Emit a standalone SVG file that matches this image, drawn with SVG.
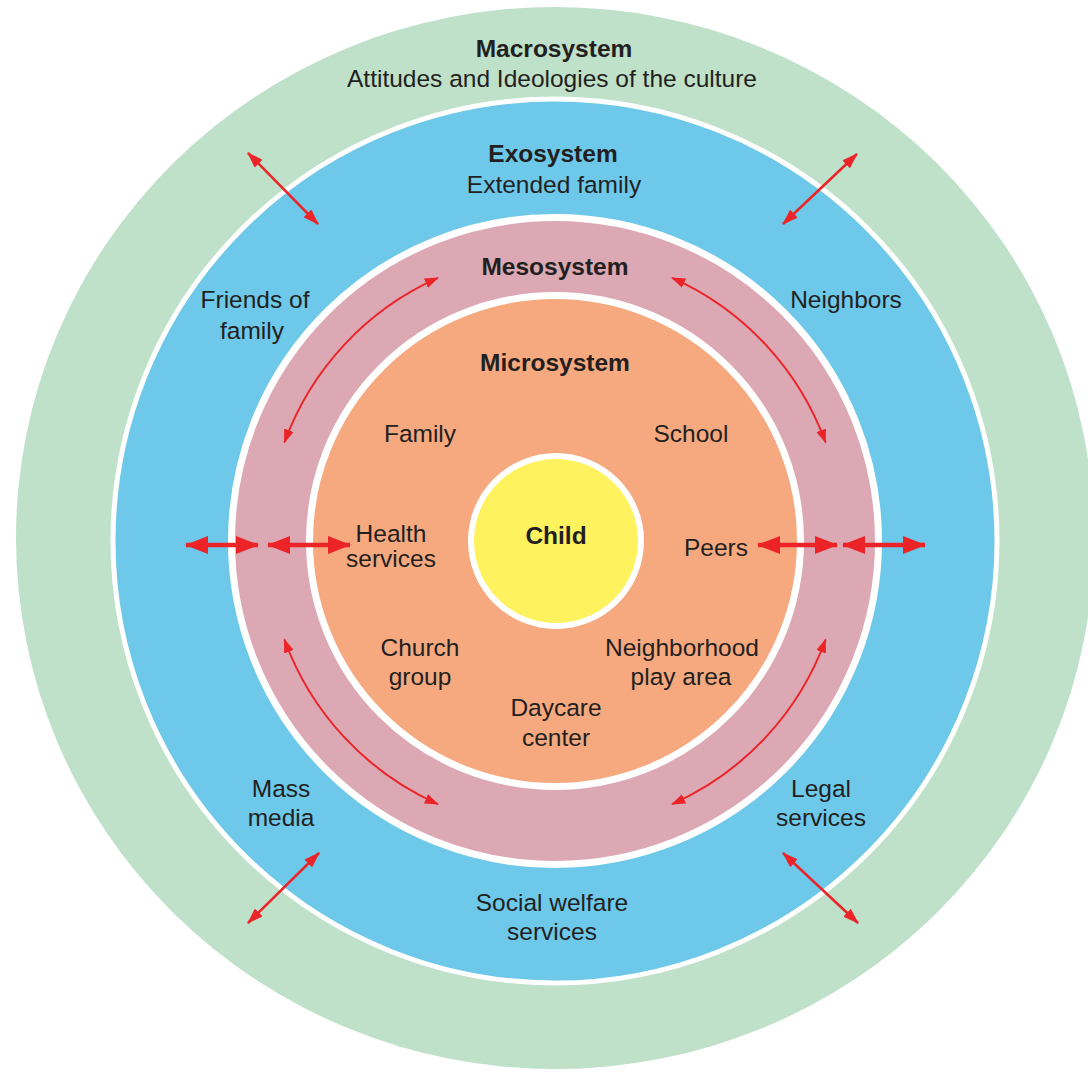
<svg xmlns="http://www.w3.org/2000/svg" width="1088" height="1075" viewBox="0 0 1088 1075">
<defs>
<style>
text{font-family:"Liberation Sans",Arial,sans-serif;font-size:24.5px;fill:#231f20;text-anchor:middle}
.b{font-weight:bold}
.arr{fill:none;stroke:#ec2427}
.thin{stroke-width:2.5}
.arc{stroke-width:2}
.thick{stroke-width:4.5}
</style>
<marker id="hd" markerUnits="userSpaceOnUse" viewBox="0 0 16 11" markerWidth="16" markerHeight="11" refX="15" refY="5.5" orient="auto-start-reverse"><path d="M0,0 L16,5.5 L0,11 z" fill="#ec2427"/></marker>
<marker id="hs" markerUnits="userSpaceOnUse" viewBox="0 0 14 10" markerWidth="14" markerHeight="10" refX="13" refY="5" orient="auto-start-reverse"><path d="M0,0 L14,5 L0,10 z" fill="#ec2427"/></marker>
<marker id="hb" markerUnits="userSpaceOnUse" viewBox="0 0 23 18" markerWidth="23" markerHeight="18" refX="22" refY="9" orient="auto-start-reverse"><path d="M0,0 L23,9 L0,18 z" fill="#ec2427"/></marker>
</defs>
<rect width="1088" height="1075" fill="#fff"/>
<g id="macrosystem">
<ellipse cx="555" cy="538" rx="539" ry="531" fill="#bfe0c9"/>
<text class="b" x="554" y="57">Macrosystem</text>
<text x="552" y="87">Attitudes and Ideologies of the culture</text>
</g>
<g id="exosystem">
<circle cx="555" cy="541" r="442" fill="#6dc8ea" stroke="#fff" stroke-width="5"/>
<text class="b" x="553" y="162">Exosystem</text>
<text x="554" y="193">Extended family</text>
<text x="255" y="308">Friends of</text>
<text x="252" y="339">family</text>
<text x="846" y="308">Neighbors</text>
<text x="281" y="797">Mass</text>
<text x="281" y="826">media</text>
<text x="821" y="797">Legal</text>
<text x="821" y="826">services</text>
<text x="552" y="911">Social welfare</text>
<text x="552" y="940">services</text>
</g>
<g id="mesosystem">
<circle cx="555" cy="541" r="323.5" fill="#dba8b4" stroke="#fff" stroke-width="7"/>
<text class="b" x="555" y="275">Mesosystem</text>
</g>
<g id="microsystem">
<circle cx="555" cy="541" r="245.5" fill="#f6a97f" stroke="#fff" stroke-width="7"/>
<text class="b" x="555" y="371">Microsystem</text>
<text x="420" y="442">Family</text>
<text x="691" y="442">School</text>
<text x="391" y="542">Health</text>
<text x="391" y="567">services</text>
<text x="716" y="556">Peers</text>
<text x="420" y="656">Church</text>
<text x="420" y="685">group</text>
<text x="682" y="656">Neighborhood</text>
<text x="681" y="685">play area</text>
<text x="556" y="716">Daycare</text>
<text x="556" y="746">center</text>
</g>
<g id="child">
<circle cx="556" cy="541" r="85" fill="#fef35e" stroke="#fff" stroke-width="6"/>
<text class="b" x="556" y="544">Child</text>
</g>
<g id="connectors">
<path class="arr thin" d="M248,153 L318,224" marker-start="url(#hd)" marker-end="url(#hd)"/>
<path class="arr thin" d="M857,154 L783,224" marker-start="url(#hd)" marker-end="url(#hd)"/>
<path class="arr thin" d="M319,853 L248,923" marker-start="url(#hd)" marker-end="url(#hd)"/>
<path class="arr thin" d="M783,853 L858,923" marker-start="url(#hd)" marker-end="url(#hd)"/>
<path class="arr arc" d="M437.9,277.9 A288,288 0 0 0 284.4,442.5" marker-start="url(#hs)" marker-end="url(#hs)"/>
<path class="arr arc" d="M672.1,277.9 A288,288 0 0 1 825.6,442.5" marker-start="url(#hs)" marker-end="url(#hs)"/>
<path class="arr arc" d="M284.4,639.5 A288,288 0 0 0 437.9,804.1" marker-start="url(#hs)" marker-end="url(#hs)"/>
<path class="arr arc" d="M825.6,639.5 A288,288 0 0 1 672.1,804.1" marker-start="url(#hs)" marker-end="url(#hs)"/>
<path class="arr thick" d="M186,545 L258,545" marker-start="url(#hb)" marker-end="url(#hb)"/>
<path class="arr thick" d="M268,545 L350,545" marker-start="url(#hb)" marker-end="url(#hb)"/>
<path class="arr thick" d="M758,545 L837,545" marker-start="url(#hb)" marker-end="url(#hb)"/>
<path class="arr thick" d="M843,545 L925,545" marker-start="url(#hb)" marker-end="url(#hb)"/>
</g>
</svg>
